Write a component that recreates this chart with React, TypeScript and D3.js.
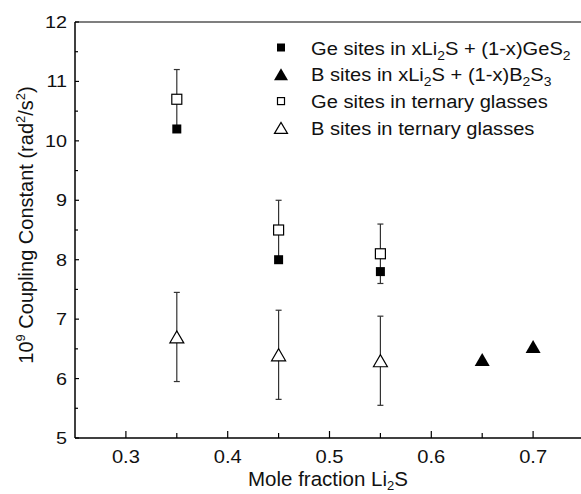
import React from 'react';
import * as d3 from 'd3';

// values
const geBinaryX = [0.35, 0.45, 0.55];
const geBinaryY = [10.2, 8.0, 7.8];

const bBinaryX = [0.65, 0.7];
const bBinaryY = [6.32, 6.54];

const geTernaryX = [0.35, 0.45, 0.55];
const geTernaryY = [10.7, 8.5, 8.1];
const geTernaryErr = [0.5, 0.5, 0.5];

const bTernaryX = [0.35, 0.45, 0.55];
const bTernaryY = [6.7, 6.4, 6.3];
const bTernaryErr = [0.75, 0.75, 0.75];

const xTicks = [0.3, 0.4, 0.5, 0.6, 0.7];
const yTicks = [5, 6, 7, 8, 9, 10, 11, 12];

const W = 581;
const H = 494;
const margin = { top: 22, right: -3, bottom: 56, left: 75 };
const FONT = 'Liberation Sans, Arial, Helvetica, sans-serif';

const x = d3.scaleLinear().domain([0.25, 0.75]).range([margin.left, W - margin.right]);
const y = d3.scaleLinear().domain([5, 12]).range([H - margin.bottom, margin.top]);

const tri = (cx: number, cy: number, w: number, h: number) =>
  `M${cx - w / 2},${cy + h / 2}L${cx},${cy - h / 2}L${cx + w / 2},${cy + h / 2}Z`;

const ErrorBar = ({ cx, lo, hi }: { cx: number; lo: number; hi: number }) => (
  <g stroke="#333" strokeWidth={1.2}>
    <line x1={cx} x2={cx} y1={y(lo)} y2={y(hi)} />
    <line x1={cx - 3} x2={cx + 3} y1={y(lo)} y2={y(lo)} />
    <line x1={cx - 3} x2={cx + 3} y1={y(hi)} y2={y(hi)} />
  </g>
);

const Sub = ({ t, fs = 13, d = 5 }: { t: string; fs?: number; d?: number }) => (
  <tspan dy={d} fontSize={fs}>{t}</tspan>
);

export default function App() {
  const x0 = margin.left;
  const yb = y(5);
  const xMinor = d3.range(0.3, 0.751, 0.05);
  const yMinor = d3.range(5.5, 12, 1);

  const legend = [
    { kind: 'fsq', label: (<><tspan>Ge sites in xLi</tspan><Sub t="2" /><tspan dy={-5}>S + (1-x)GeS</tspan><Sub t="2" /></>) },
    { kind: 'ftri', label: (<><tspan>B sites in xLi</tspan><Sub t="2" /><tspan dy={-5}>S + (1-x)B</tspan><Sub t="2" /><tspan dy={-5}>S</tspan><Sub t="3" /></>) },
    { kind: 'osq', label: <tspan>Ge sites in ternary glasses</tspan> },
    { kind: 'otri', label: <tspan>B sites in ternary glasses</tspan> },
  ];

  const marker = (kind: string, mx: number, cy: number, key: string) => {
    if (kind === 'fsq') return <rect key={key} x={mx - 4} y={cy - 4} width={8} height={8} fill="#000" />;
    if (kind === 'ftri') return <path key={key} d={tri(mx, cy, 14, 12)} fill="#000" />;
    if (kind === 'osq') return <rect key={key} x={mx - 3.5} y={cy - 3.5} width={7} height={7} fill="#fff" stroke="#000" strokeWidth={1.2} />;
    return <path key={key} d={tri(mx, cy, 13, 11)} fill="#fff" stroke="#000" strokeWidth={1.2} />;
  };

  return (
    <svg width={W} height={H} style={{ position: 'absolute', left: 0, top: 0, background: '#fff' }} fontFamily={FONT}>
      {/* frame */}
      <line x1={x0} x2={W} y1={y(12)} y2={y(12)} stroke="#555" strokeWidth={1.5} />
      <line x1={x0} x2={x0} y1={y(12)} y2={yb} stroke="#000" strokeWidth={1.5} />
      <line x1={x0} x2={W} y1={yb} y2={yb} stroke="#000" strokeWidth={1.5} />

      {/* x ticks */}
      {xMinor.map((v, i) => {
        const major = i % 2 === 0;
        return <line key={'xt' + i} x1={x(v)} x2={x(v)} y1={yb} y2={yb - (major ? 7 : 5)} stroke="#000" strokeWidth={1.2} />;
      })}
      {xTicks.map(v => (
        <g key={'xl' + v} transform={`translate(${x(v)},${yb + 25}) scale(1.15,1)`}>
          <text fontSize={17.5} textAnchor="middle" fill="#111">{v.toFixed(1)}</text>
        </g>
      ))}

      {/* y ticks */}
      {yTicks.map(v => (
        <line key={'yt' + v} x1={x0} x2={x0 + 4} y1={y(v)} y2={y(v)} stroke="#000" strokeWidth={1.2} />
      ))}
      {yMinor.map((v, i) => (
        <line key={'ym' + i} x1={x0} x2={x0 + 3} y1={y(v)} y2={y(v)} stroke="#000" strokeWidth={1.2} />
      ))}
      {yTicks.map(v => (
        <g key={'yl' + v} transform={`translate(${x0 - 8},${y(v) + 6}) scale(1.2,1)`}>
          <text fontSize={16.5} textAnchor="end" fill="#111">{v}</text>
        </g>
      ))}

      {/* axis titles */}
      <text x={328} y={486} fontSize={20.5} textAnchor="middle" fill="#111">
        <tspan>Mole fraction Li</tspan><Sub t="2" fs={13} d={4} /><tspan dy={-4}>S</tspan>
      </text>
      <text transform={`translate(33,${225}) rotate(-90)`} fontSize={20} textAnchor="middle" fill="#111">
        <tspan>10</tspan><tspan dy={-8} fontSize={13}>9</tspan><tspan dy={8}> Coupling Constant (rad</tspan>
        <tspan dy={-8} fontSize={13}>2</tspan><tspan dy={8}>/s</tspan><tspan dy={-8} fontSize={13}>2</tspan><tspan dy={8}>)</tspan>
      </text>

      {/* error bars */}
      {geTernaryX.map((v, i) => (
        <ErrorBar key={'ge' + i} cx={x(v)} lo={geTernaryY[i] - geTernaryErr[i]} hi={geTernaryY[i] + geTernaryErr[i]} />
      ))}
      {bTernaryX.map((v, i) => (
        <ErrorBar key={'be' + i} cx={x(v)} lo={bTernaryY[i] - bTernaryErr[i]} hi={bTernaryY[i] + bTernaryErr[i]} />
      ))}

      {/* markers */}
      {geTernaryX.map((v, i) => (
        <rect key={'os' + i} x={x(v) - 5} y={y(geTernaryY[i]) - 5} width={10} height={10} fill="#fff" stroke="#000" strokeWidth={1.2} />
      ))}
      {geBinaryX.map((v, i) => (
        <rect key={'fs' + i} x={x(v) - 4.5} y={y(geBinaryY[i]) - 4.5} width={9} height={9} fill="#000" />
      ))}
      {bTernaryX.map((v, i) => (
        <path key={'ot' + i} d={tri(x(v), y(bTernaryY[i]), 14, 12)} fill="#fff" stroke="#000" strokeWidth={1.2} />
      ))}
      {bBinaryX.map((v, i) => (
        <path key={'ft' + i} d={tri(x(v), y(bBinaryY[i]), 15, 13)} fill="#000" />
      ))}

      {/* legend */}
      {legend.map((d, i) => {
        const cy = 47.5 + i * 26.8;
        return (
          <g key={'lg' + i}>
            {marker(d.kind, 281, cy, 'lm' + i)}
            <g transform={`translate(311,${cy + 7}) scale(1.07,1)`}>
              <text fontSize={18.8} fill="#111">{d.label}</text>
            </g>
          </g>
        );
      })}
    </svg>
  );
}
